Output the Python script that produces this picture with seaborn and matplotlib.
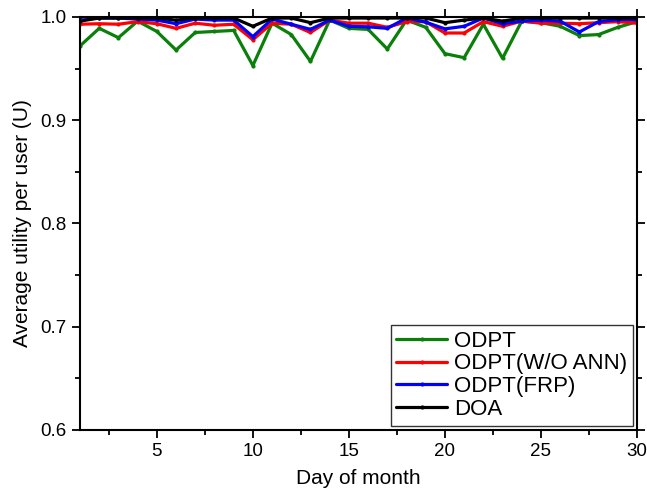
import numpy as np
import pandas as pd
import matplotlib
matplotlib.use("Agg")
import matplotlib.pyplot as plt
import seaborn as sns
from matplotlib.ticker import MultipleLocator

days = list(range(1, 31))
odpt = [0.972, 0.989, 0.980, 0.996, 0.986, 0.968, 0.985, 0.986, 0.987, 0.953,
        0.994, 0.983, 0.957, 0.997, 0.989, 0.988, 0.969, 0.997, 0.990, 0.9645,
        0.9606, 0.993, 0.960, 0.996, 0.9945, 0.991, 0.982, 0.983, 0.990, 0.9955]
odpt_wo_ann = [0.993, 0.9935, 0.993, 0.9955, 0.9935, 0.989, 0.994, 0.992, 0.993, 0.978,
               0.994, 0.993, 0.985, 0.997, 0.994, 0.994, 0.990, 0.9955, 0.9955, 0.9845,
               0.9845, 0.9955, 0.991, 0.996, 0.994, 0.994, 0.9935, 0.9945, 0.9955, 0.994]
odpt_frp = [1.000, 0.999, 0.999, 0.998, 0.997, 0.9935, 0.998, 0.997, 0.997, 0.981,
            0.998, 0.993, 0.988, 0.997, 0.991, 0.9905, 0.989, 0.999, 0.995, 0.9885,
            0.991, 0.999, 0.9935, 0.996, 0.997, 0.996, 0.9855, 0.9955, 0.9975, 0.9975]
doa = [0.996, 0.999, 0.999, 0.999, 0.999, 0.997, 0.999, 0.999, 0.999, 0.991,
       0.999, 0.999, 0.9945, 0.999, 0.999, 0.999, 0.999, 0.999, 0.999, 0.9945,
       0.997, 0.999, 0.996, 0.999, 0.999, 0.999, 0.999, 0.999, 0.999, 0.999]

series_names = ["ODPT", "ODPT(W/O ANN)", "ODPT(FRP)", "DOA"]
colors = ["#0a800a", "#ff0000", "#0000ff", "#000000"]

df = pd.concat([
    pd.DataFrame({"Day": days, "U": vals, "Method": name})
    for name, vals in zip(series_names, [odpt, odpt_wo_ann, odpt_frp, doa])
], ignore_index=True)

sns.set_style("ticks")
plt.rcParams["font.family"] = ["Liberation Sans", "DejaVu Sans"]
plt.rcParams["text.color"] = "black"
plt.rcParams["axes.labelcolor"] = "black"
plt.rcParams["xtick.color"] = "black"
plt.rcParams["ytick.color"] = "black"

fig = plt.figure(figsize=(6.47, 4.99), dpi=100)
ax = fig.add_axes([80 / 647, 1 - 430 / 499, (637 - 80) / 647, (430 - 17) / 499])

sns.lineplot(data=df, x="Day", y="U", hue="Method", hue_order=series_names,
             palette=colors, linewidth=2.3, marker="o", markersize=3,
             markeredgewidth=0, ax=ax)

ax.set_xlim(1, 30)
ax.set_ylim(0.6, 1.0)
ax.xaxis.set_major_locator(MultipleLocator(5))
ax.xaxis.set_minor_locator(MultipleLocator(2.5))
ax.yaxis.set_major_locator(MultipleLocator(0.1))
ax.yaxis.set_minor_locator(MultipleLocator(0.05))
ax.yaxis.set_major_formatter(matplotlib.ticker.FormatStrFormatter("%.1f"))
ax.tick_params(which="both", direction="out", top=True, right=True,
               labeltop=False, labelright=False, width=1.3, colors="black",
               labelsize=13.5)
ax.tick_params(which="major", length=6)
ax.tick_params(which="minor", length=3.5)
for sp in ax.spines.values():
    sp.set_visible(True)
    sp.set_linewidth(1.5)
    sp.set_color("black")

ax.set_xlabel("Day of month", fontsize=15, labelpad=6)
ax.set_ylabel("Average utility per user (U)", fontsize=15, labelpad=6)

leg = ax.legend(loc="lower right", fontsize=16, frameon=True, fancybox=False,
                edgecolor="black", handlelength=2.3, borderaxespad=0.2,
                labelspacing=0.08, handletextpad=0.3, borderpad=0.25,
                bbox_to_anchor=(1.0, 0.0))
leg.get_frame().set_linewidth(1.0)
for t in leg.get_texts():
    t.set_color("black")

fig.savefig("out.png", dpi=100)
